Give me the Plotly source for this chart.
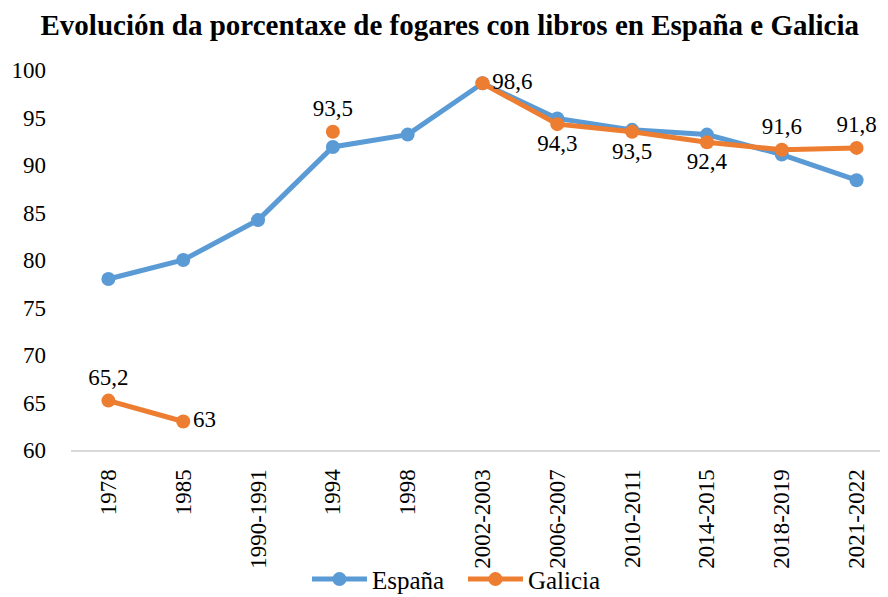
import plotly.graph_objects as go

categories = ["1978", "1985", "1990-1991", "1994", "1998", "2002-2003",
              "2006-2007", "2010-2011", "2014-2015", "2018-2019", "2021-2022"]
espana = [78.0, 80.0, 84.2, 91.9, 93.2, 98.6, 94.9, 93.7, 93.2, 91.1, 88.4]
galicia = [65.2, 63.0, None, 93.5, None, 98.6, 94.3, 93.5, 92.4, 91.6, 91.8]
galicia_pos = ["top center", "middle right", "top center", "top center", "top center",
               "middle right", "bottom center", "bottom center", "bottom center",
               "top center", "top center"]

def fmt(v):
    if v is None:
        return ""
    s = ("%.1f" % v).rstrip("0").rstrip(".")
    return s.replace(".", ",")

serif = "Liberation Serif, Times New Roman, serif"
blue = "#5B9BD5"
orange = "#ED7D31"

fig = go.Figure()
fig.add_trace(go.Scatter(
    x=categories, y=espana, name="España", mode="lines+markers",
    line=dict(color=blue, width=5), marker=dict(color=blue, size=14),
    cliponaxis=False,
))
fig.add_trace(go.Scatter(
    x=categories, y=galicia, name="Galicia", mode="lines+markers+text",
    line=dict(color=orange, width=5), marker=dict(color=orange, size=14),
    text=[fmt(v) for v in galicia], textposition=galicia_pos,
    textfont=dict(family=serif, size=23, color="#000000"),
    connectgaps=False, cliponaxis=False,
))

# page body has an 8px margin; the figure is sized/offset to compensate
fig.update_layout(
    width=880, height=589,
    margin=dict(l=63, r=0, t=62, b=147),
    paper_bgcolor="white", plot_bgcolor="white",
    title=dict(text="<b>Evolución da porcentaxe de fogares con libros en España e Galicia</b>",
               x=0.502, xanchor="center", y=0.971, yanchor="middle",
               font=dict(family=serif, size=29, color="#000000")),
    font=dict(family=serif, size=23, color="#000000"),
    showlegend=True,
    legend=dict(orientation="h", xref="container", yref="container",
                x=0.517, xanchor="center", y=0.03, yanchor="middle",
                font=dict(family=serif, size=25, color="#000000"),
                bgcolor="rgba(0,0,0,0)", itemwidth=55, entrywidth=86,
                tracegroupgap=0),
)
fig.update_xaxes(
    type="category", range=[-0.5, 10.42], tickangle=-90, automargin=False,
    showline=True, linecolor="#D9D9D9", linewidth=2, showgrid=False,
    ticks="", ticklabelstandoff=8,
    tickfont=dict(family=serif, size=23, color="#000000"),
)
fig.update_yaxes(
    range=[60, 100], dtick=5, showgrid=False, zeroline=False, showline=False,
    ticks="", ticklabelstandoff=24, automargin=False,
    tickfont=dict(family=serif, size=23, color="#000000"),
)

fig.write_html("out.html")
